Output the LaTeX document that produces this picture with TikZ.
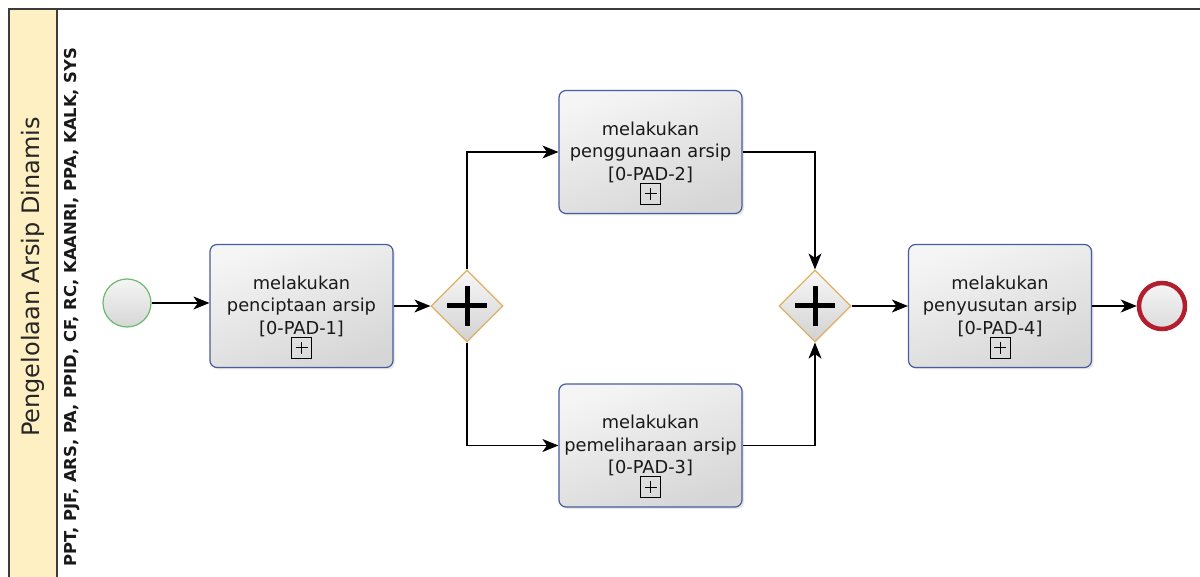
\documentclass[tikz,border=0pt]{standalone}
\usepackage{fontspec}
\setmainfont{DejaVu Sans}
\usetikzlibrary{shapes.geometric,arrows.meta,shadows}
\definecolor{poolline}{RGB}{60,60,60}
\definecolor{laneyellow}{RGB}{255,240,195}
\definecolor{taskedge}{RGB}{72,92,160}
\definecolor{gwedge}{RGB}{222,176,100}
\definecolor{startedge}{RGB}{110,185,110}
\definecolor{endedge}{RGB}{178,30,45}
\tikzset{
  taskbox/.style={draw=taskedge, line width=1.2pt, rounded corners=7pt,
    minimum width=183pt, minimum height=123pt, align=center,
    top color=white!96!black, bottom color=white!84!black, shading angle=20,
    drop shadow={opacity=0.18, shadow xshift=2pt, shadow yshift=-2pt},
    font=\fontsize{17.8}{22.5}\selectfont, text=black!90},
  gate/.style={diamond, draw=gwedge, line width=1.2pt, minimum width=72pt, minimum height=72pt,
    inner sep=0pt, top color=white!97!black, bottom color=white!82!black},
  startev/.style={circle, draw=startedge, line width=1.2pt, minimum size=48pt, inner sep=0pt,
    top color=white!96!black, bottom color=white!84!black},
  endev/.style={circle, draw=endedge, line width=4.5pt, minimum size=46pt, inner sep=0pt,
    top color=white!96!black, bottom color=white!86!black},
  marker/.style={draw=black, line width=0.9pt, minimum width=20pt, minimum height=21pt, inner sep=0pt, fill=none},
  flow/.style={draw=black, line width=1.3pt, -{Stealth[length=16pt,width=13pt,inset=4.5pt]}},
  plusarm/.style={line width=5pt, black},
  tinyplus/.style={line width=0.8pt, black}
}
\begin{document}
\begin{tikzpicture}[x=1pt,y=-1pt]
\useasboundingbox (0,0) rectangle (1200,577);
% pool
\fill[white] (0,0) rectangle (1200,577);
\fill[laneyellow] (9,9) rectangle (57,580);
\draw[poolline, line width=2pt] (1205,9) -- (9,9) -- (9,585);
\draw[poolline, line width=1.4pt] (57,9) -- (57,585);
\node[rotate=90, font=\fontsize{24}{24}\selectfont, text=black!85] (pooltitle) at (33,277) {Pengelolaan Arsip Dinamis};
\node[rotate=90, font=\fontsize{16.4}{16.4}\selectfont\bfseries, text=black!90] (lanetitle) at (72,307) {PPT, PJF, ARS, PA, PPID, CF, RC, KAANRI, PPA, KALK, SYS};
% events, tasks, gateways
\node[startev] (start) at (127,303) {};
\node[taskbox] (t1) at (301.5,306) {melakukan\\penciptaan arsip\\{[0-PAD-1]}};
\node[gate] (g1) at (467,306) {};
\node[taskbox] (t2) at (650.5,152) {melakukan\\penggunaan arsip\\{[0-PAD-2]}};
\node[taskbox] (t3) at (650.5,445.5) {melakukan\\pemeliharaan arsip\\{[0-PAD-3]}};
\node[gate] (g2) at (815,306) {};
\node[taskbox] (t4) at (1000,306) {melakukan\\penyusutan arsip\\{[0-PAD-4]}};
\node[endev] (end) at (1162,306) {};
% gateway plus signs
\foreach \g in {g1,g2}{
  \draw[plusarm] (\g.center) ++(-20,0) -- ++(40,0);
  \draw[plusarm] (\g.center) ++(0,-20) -- ++(0,40);
}
% sub-process markers
\foreach \t in {t1,t2,t3,t4}{
  \node[marker] (m\t) at ([yshift=20.5pt]\t.south) {};
  \draw[tinyplus] (m\t.center) ++(-6,0) -- ++(12,0);
  \draw[tinyplus] (m\t.center) ++(0,-6) -- ++(0,12);
}
% flows
\draw[flow] (start) -- (t1.west |- start);
\draw[flow] (t1.east |- g1) -- (g1.west);
\draw[flow] (g1.north) |- (t2.west);
\draw[flow] (g1.south) |- (t3.west);
\draw[flow] (t2.east) -| (g2.north);
\draw[flow] (t3.east) -| (g2.south);
\draw[flow] (g2.east) -- (t4.west);
\draw[flow] (t4.east |- end) -- (end.west);
\end{tikzpicture}
\end{document}
